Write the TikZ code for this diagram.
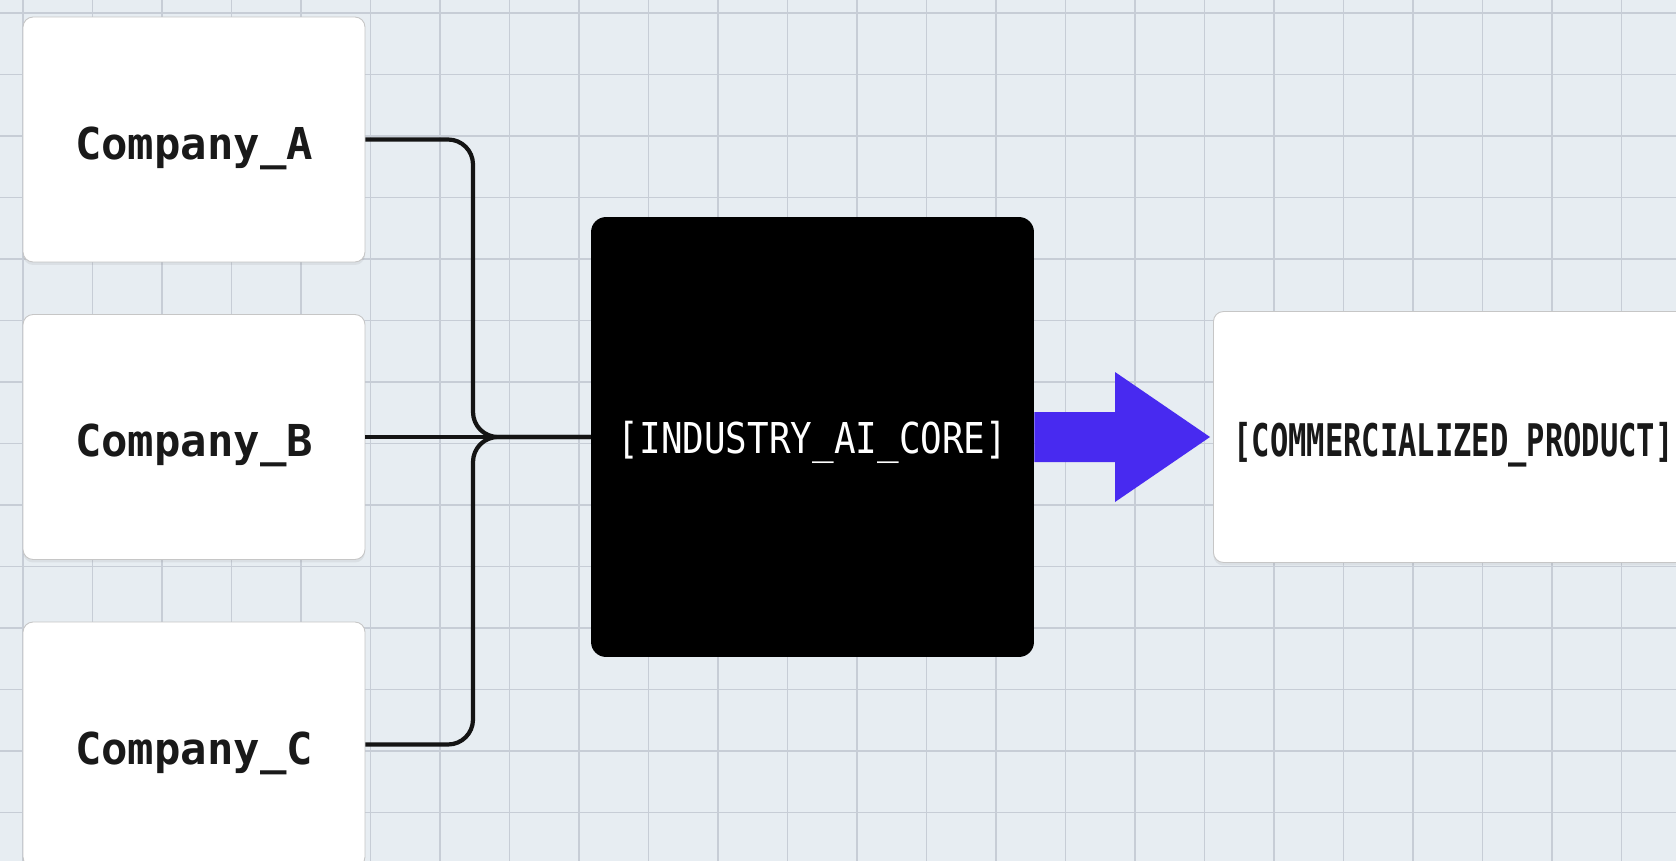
\documentclass[tikz,border=0pt]{standalone}
\usepackage{fontspec}
\setmonofont{DejaVu Sans Mono}
\usepackage{graphicx}
\usepackage{xcolor}
\usetikzlibrary{calc,shadows}
\definecolor{paper}{RGB}{231,237,242}
\definecolor{gridgray}{RGB}{199,205,214}
\definecolor{flowblue}{RGB}{72,42,240}
\newcommand\bcol{gray!45}

\begin{document}
\begin{tikzpicture}[x=0.02cm, y=-0.02cm,
      gridline/.style={draw=gridgray, line width=0.9pt},
      card/.style={draw=\bcol, line width=0.5pt, fill=white, rounded corners=0.2cm,
        drop shadow={shadow xshift=0pt, shadow yshift=-0.06cm, opacity=0.12},
        minimum width=6.84cm, minimum height=4.9cm, inner sep=0pt, text=black!90,
        text height=28.5pt, text depth=6pt,
        font=\ttfamily\bfseries\fontsize{25}{30}\selectfont},
      core/.style={fill=black, rounded corners=0.3cm, minimum width=8.86cm,
        minimum height=8.8cm, inner sep=0pt, text=white,
        text height=21.8pt, text depth=3.1pt,
        font=\ttfamily\fontsize{24.2}{29}\selectfont},
      prod/.style={card, minimum width=10.4cm, minimum height=5.02cm,
        text width=9.6cm, inner xsep=0.4cm, align=left,
        text height=25.6pt, text depth=3.3pt,
        font=\ttfamily\bfseries\fontsize{25.6}{30}\selectfont},
      link/.style={draw=black!92, line width=2.4pt, rounded corners=0.5cm}
    ]
    \useasboundingbox (0,0) rectangle (1676,861);
    \clip (0,0) rectangle (1676,861);
    \fill[paper] (0,0) rectangle (1676,861);

    \foreach \i in {0,...,23}{
      \draw[gridline] ({23+69.5*\i},0) -- ++(0,861);
    }
    \foreach \j in {0,...,13}{
      \draw[gridline] (0,{13+61.5*\j}) -- ++(1676,0);
    }

    \node[card] (A) at (194,139.5) {Company\_A};
    \node[card] (B) at (194,437) {Company\_B};
    \node[card] (C) at (194,744.5) {Company\_C};

    \coordinate (join) at (473,437);
    \draw[link] (A.east) -| (join) -- (812,437);
    \draw[link] (C.east) -| (join) -- (812,437);
    \draw[link] (B.east) -- (812,437);

    \node[core] (core) at (812.5,437) {\scalebox{0.845}[1]{[INDUSTRY\_AI\_CORE]}};
    \node[prod, anchor=west] (prod) at (1213,437) {\scalebox{0.677}[1]{[COMMERCIALIZED\_PRODUCT]}};

    \fill[flowblue] ($(core.east)+(0,-25)$) -- ($(prod.west)+(-98,-25)$)
      -- ($(prod.west)+(-98,-65)$) -- ($(prod.west)+(-3,0)$)
      -- ($(prod.west)+(-98,65)$) -- ($(prod.west)+(-98,25)$)
      -- ($(core.east)+(0,25)$) -- cycle;
  \end{tikzpicture}
\end{document}
